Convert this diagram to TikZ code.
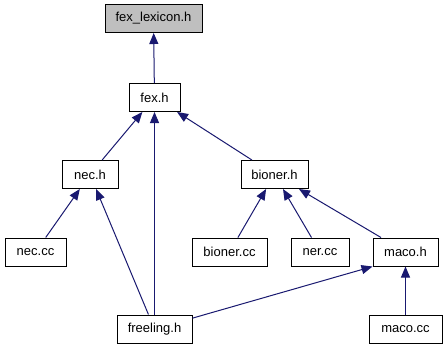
\documentclass[tikz,border=0pt]{standalone}
\usepackage{fontspec}
\setmainfont{Liberation Sans}
\usetikzlibrary{arrows.meta}
\definecolor{edgeblue}{HTML}{191970}
\definecolor{rootgray}{HTML}{BFBFBF}
\begin{document}
\begin{tikzpicture}[x=1pt,y=-1pt,
  file/.style={draw=black, line width=1pt, fill=white, minimum height=28pt,
    inner sep=0pt, font=\fontsize{13}{15}\selectfont},
  dep/.style={draw=edgeblue, line width=1pt,
    -{Triangle[length=11pt,width=9pt]}, color=edgeblue}]
\useasboundingbox (0,0) rectangle (447,349);
\fill[white] (0,0) rectangle (447,349);

% header nodes, one row per level
\node[file, fill=rootgray, minimum width=97pt] (lex) at (153.5,18.5) {fex\_lexicon.h};
\node[file, minimum width=51pt] (fex) at (154.5,97.5) {fex.h};
\node[file, minimum width=56pt] (nec) at (90,174.5) {nec.h};
\node[file, minimum width=67pt] (bioner) at (274.5,174.5) {bioner.h};
\node[file, minimum width=61pt] (neccc) at (35.5,252) {nec.cc};
\node[file, minimum width=75pt] (bionercc) at (229.5,252) {bioner.cc};
\node[file, minimum width=58pt] (nercc) at (320,252) {ner.cc};
\node[file, minimum width=65pt] (maco) at (405.5,252) {maco.h};
\node[file, minimum width=75pt] (freeling) at (154.5,329) {freeling.h};
\node[file, minimum width=73pt] (macocc) at (405.5,329) {maco.cc};

% include dependencies, arrow pointing to the included header
\draw[dep] (fex) -- (lex);
\draw[dep] (nec) -- (fex);
\draw[dep] (freeling) -- (fex);
\draw[dep] (bioner) -- (fex);
\draw[dep] (neccc) -- (nec);
\draw[dep] (freeling) -- (nec);
\draw[dep] (bionercc) -- (bioner);
\draw[dep] (nercc) -- (bioner);
\draw[dep] (maco) -- (bioner);
\draw[dep] (freeling) -- (maco.south west);
\draw[dep] (macocc) -- (maco);
\end{tikzpicture}
\end{document}
